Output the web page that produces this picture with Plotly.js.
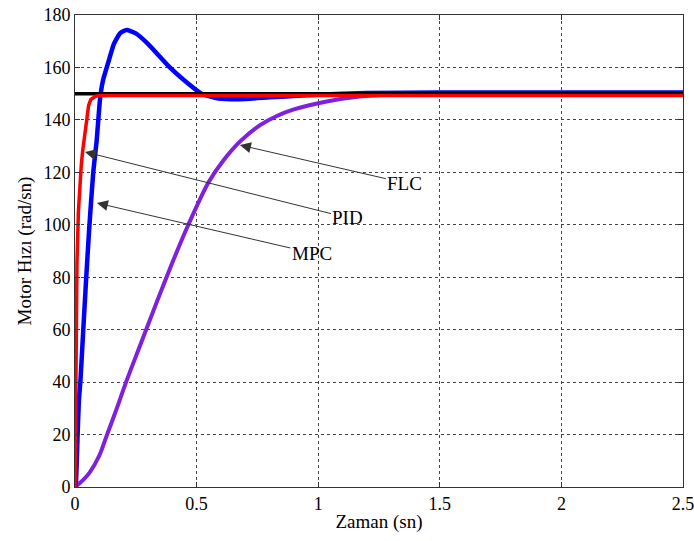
<!DOCTYPE html>
<html>
<head>
<meta charset="utf-8">
<script src="https://cdn.plot.ly/plotly-3.0.1.min.js"></script>
<style>html,body{margin:0;padding:0;background:#fff;}#chart{width:694px;height:541px;}</style>
</head>
<body>
<div id="chart"></div>
<script>
// Reference speed
const refT = [0, 2.5];
const refY = [150, 150];

// PID (red)
const pidT = [0, 0.002, 0.004, 0.008, 0.014, 0.02, 0.026, 0.032, 0.04, 0.048, 0.056, 0.065, 0.075, 0.085, 0.1, 0.15, 2.5];
const pidY = [0, 30, 60, 85, 105, 117, 123, 128.5, 134, 141, 145.5, 147.8, 148.6, 149, 149.2, 149.3, 149.3];

// MPC (blue)
const mpcT = [0, 0.004, 0.01, 0.016, 0.022, 0.034, 0.045, 0.058, 0.075, 0.089, 0.103, 0.115, 0.137, 0.16, 0.185, 0.212, 0.25, 0.3, 0.35, 0.39, 0.45, 0.52, 0.58, 0.64, 0.72, 0.8, 0.9, 1.0, 1.1, 1.2, 1.5, 2.5];
const mpcY = [0, 2, 18, 33, 40, 60, 78, 98, 120, 132, 148, 155, 162, 169, 173, 174.3, 173, 169, 164, 160, 155, 150, 148.3, 147.9, 148.1, 148.6, 149.1, 149.6, 150, 150.3, 150.4, 150.4];

// FLC (purple)
const flcT = [0, 0.02, 0.06, 0.1, 0.13, 0.17, 0.21, 0.27, 0.336, 0.4, 0.466, 0.548, 0.61, 0.678, 0.761, 0.83, 0.9, 1.035, 1.17, 1.3, 1.5, 2.5];
const flcY = [0, 1.5, 5.5, 12, 19.5, 29.5, 40, 54.5, 70.5, 85.5, 100, 116, 124.5, 131.7, 138, 141.5, 144, 147, 148.9, 149.7, 150.1, 150.3];

// Annotation labels
const labels = ['FLC', 'PID', 'MPC'];
const labelT = [0.678, 0.041, 0.090];
const labelY = [130.4, 127.8, 108.3];

const xTicks = [0, 0.5, 1, 1.5, 2, 2.5];
const xTickText = ['0', '0.5', '1', '1.5', '2', '2.5'];
const yTicks = [0, 20, 40, 60, 80, 100, 120, 140, 160, 180];

const fam = '"Liberation Serif", "Times New Roman", serif';
const tickFont = {family: fam, size: 18, color: '#000'};
const titleFont = {family: fam, size: 19, color: '#000'};
const annFont = {family: fam, size: 19, color: '#000'};

const traces = [
  {x: flcT, y: flcY, mode: 'lines', line: {color: '#7f1fe0', width: 4, shape: 'spline', smoothing: 0.8}, name: 'FLC'},
  {x: mpcT, y: mpcY, mode: 'lines', line: {color: '#0000ff', width: 4.5, shape: 'spline', smoothing: 0.5}, name: 'MPC'},
  {x: refT, y: refY, mode: 'lines', line: {color: '#000000', width: 3.5}, name: 'Ref'},
  {x: pidT, y: pidY, mode: 'lines', line: {color: '#ff0000', width: 3.5}, name: 'PID'}
];

const offsets = [[165, 38], [263, 66], [215, 50]];
const annotations = labels.map((t, i) => ({
  x: labelT[i], y: labelY[i], xref: 'x', yref: 'y',
  text: t, showarrow: true, arrowhead: 2, arrowsize: 2.2, arrowwidth: 1,
  arrowcolor: '#333', ax: offsets[i][0], ay: offsets[i][1],
  font: annFont
}));

const axisCommon = {
  showline: true, linecolor: '#333', linewidth: 1, mirror: 'allticks',
  ticks: 'inside', ticklen: 5, tickcolor: '#333',
  showgrid: true, gridcolor: '#444', griddash: '3px,3px', gridwidth: 1,
  zeroline: false, tickfont: tickFont, ticklabeloverflow: 'allow'
};

const layout = {
  width: 694, height: 541,
  margin: {l: 75, r: 11, t: 15, b: 54},
  paper_bgcolor: '#fff', plot_bgcolor: '#fff',
  showlegend: false,
  xaxis: Object.assign({}, axisCommon, {
    range: [0, 2.5], tickvals: xTicks, ticktext: xTickText,
    title: {text: 'Zaman (sn)', font: titleFont, standoff: 2}
  }),
  yaxis: Object.assign({}, axisCommon, {
    range: [0, 180], tickvals: yTicks,
    title: {text: 'Motor Hızı (rad/sn)', font: titleFont, standoff: 6}
  }),
  annotations: annotations
};

Plotly.newPlot('chart', traces, layout, {displayModeBar: false, staticPlot: true});
</script>
</body>
</html>
